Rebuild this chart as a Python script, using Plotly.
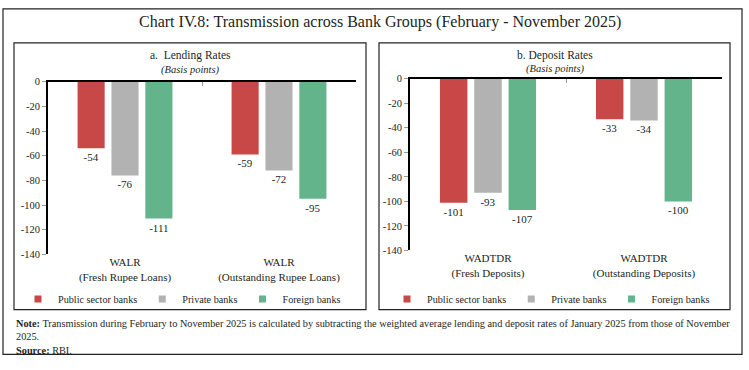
import plotly.graph_objects as go

# ---- data ----
series_names = ["Public sector banks", "Private banks", "Foreign banks"]
series_colors = ["#C84848", "#B2B2B2", "#63B38B"]

lending_categories = ["WALR<br>(Fresh Rupee Loans)", "WALR<br>(Outstanding Rupee Loans)"]
lending_psb = [-54, -59]
lending_private = [-76, -72]
lending_foreign = [-111, -95]

deposit_categories = ["WADTDR<br>(Fresh Deposits)", "WADTDR<br>(Outstanding Deposits)"]
deposit_psb = [-101, -33]
deposit_private = [-93, -34]
deposit_foreign = [-107, -100]

y_ticks = [0, -20, -40, -60, -80, -100, -120, -140]

title_text = "Chart IV.8: Transmission across Bank Groups (February - November 2025)"
panel_a_title = "a.  Lending Rates"
panel_b_title = "b. Deposit Rates"
unit_text = "<i>(Basis points)</i>"
note_text = ("<b>Note:</b> Transmission during February to November 2025 is calculated by subtracting the "
             "weighted average lending and deposit rates of January 2025 from those of November<br>2025.<br>"
             "<b>Source:</b> RBI.")

FONT = "Liberation Serif"
TXT = "#231F20"
W, H = 749, 370

fig = go.Figure()

lend_vals = [lending_psb, lending_private, lending_foreign]
dep_vals = [deposit_psb, deposit_private, deposit_foreign]

for name, color, vals in zip(series_names, series_colors, lend_vals):
    fig.add_trace(go.Bar(x=lending_categories, y=vals, name=name, marker_color=color,
                         marker_line_width=0, text=[str(v) for v in vals],
                         textposition="outside", textfont=dict(family=FONT, size=11, color=TXT),
                         cliponaxis=False, xaxis="x", yaxis="y", showlegend=False))
for name, color, vals in zip(series_names, series_colors, dep_vals):
    fig.add_trace(go.Bar(x=deposit_categories, y=vals, name=name, marker_color=color,
                         marker_line_width=0, text=[str(v) for v in vals],
                         textposition="outside", textfont=dict(family=FONT, size=11, color=TXT),
                         cliponaxis=False, xaxis="x3", yaxis="y3", showlegend=False))

# legend entries (small square swatches)
for name, color in zip(series_names, series_colors):
    fig.add_trace(go.Scatter(x=[None], y=[None], mode="markers", name=name,
                             marker=dict(symbol="square", size=7, color=color),
                             xaxis="x", yaxis="y", legend="legend"))
for name, color in zip(series_names, series_colors):
    fig.add_trace(go.Scatter(x=[None], y=[None], mode="markers", name=name,
                             marker=dict(symbol="square", size=7, color=color),
                             xaxis="x3", yaxis="y3", legend="legend2"))

def px_x(v):
    return v / W

def px_y(v):
    return 1 - v / H

left_dom_x = [px_x(48), px_x(356)]
left_dom_y = [px_y(257), px_y(79)]
right_dom_x = [px_x(410), px_x(722)]
right_dom_y = [px_y(253), px_y(76)]

cat_axis = dict(showline=False, ticks="", showgrid=False, zeroline=False,
                tickfont=dict(family=FONT, size=11, color=TXT), fixedrange=True)
top_axis = dict(side="top", showline=True, linewidth=2, linecolor="#000000",
                ticks="inside", ticklen=4, tickwidth=1, tickcolor="#999999",
                tickvals=[0.5, 1.5], showticklabels=False, showgrid=False, zeroline=False,
                range=[-0.5, 1.5], type="linear")
val_axis = dict(range=[-140, 0], tickvals=y_ticks, ticktext=[str(t) for t in y_ticks],
                showline=True, linewidth=2, linecolor="#000000", ticks="outside", ticklen=4,
                tickwidth=1, tickcolor="#999999", showgrid=False, zeroline=False,
                tickfont=dict(family=FONT, size=10.5, color=TXT))

legend_common = dict(orientation="h", font=dict(family=FONT, size=10.2, color=TXT),
                     bgcolor="rgba(0,0,0,0)", yanchor="middle", xanchor="left",
                     itemclick=False, itemdoubleclick=False, tracegroupgap=0)

fig.update_layout(
    width=W, height=H,
    margin=dict(l=0, r=0, t=0, b=0),
    paper_bgcolor="white", plot_bgcolor="white",
    barmode="group", bargap=0.34, bargroupgap=0.2,
    font=dict(family=FONT, color=TXT),
    xaxis=dict(cat_axis, domain=left_dom_x, anchor="y"),
    xaxis2=dict(top_axis, domain=left_dom_x, anchor="y", overlaying="x"),
    yaxis=dict(val_axis, domain=left_dom_y, anchor="x"),
    xaxis3=dict(cat_axis, domain=right_dom_x, anchor="y3"),
    xaxis4=dict(top_axis, domain=right_dom_x, anchor="y3", overlaying="x3"),
    yaxis3=dict(val_axis, domain=right_dom_y, anchor="x3"),
    legend=dict(legend_common, x=px_x(18), y=px_y(303)),
    legend2=dict(legend_common, x=px_x(387), y=px_y(303)),
    showlegend=True,
)

# invisible trace so top axes get drawn
fig.add_trace(go.Scatter(x=[None], y=[None], xaxis="x2", yaxis="y", showlegend=False, hoverinfo="skip"))
fig.add_trace(go.Scatter(x=[None], y=[None], xaxis="x4", yaxis="y3", showlegend=False, hoverinfo="skip"))

shapes = []
shapes.append(dict(type="rect", xref="paper", yref="paper", x0=px_x(3), x1=px_x(742),
                   y0=px_y(360), y1=px_y(4), line=dict(color="#222222", width=1.2)))
shapes.append(dict(type="rect", xref="paper", yref="paper", x0=px_x(14), x1=px_x(366),
                   y0=px_y(314), y1=px_y(39), line=dict(color="#222222", width=1.2)))
shapes.append(dict(type="rect", xref="paper", yref="paper", x0=px_x(379), x1=px_x(730),
                   y0=px_y(314), y1=px_y(39), line=dict(color="#222222", width=1.2)))
fig.update_layout(shapes=shapes)

ann = []
ann.append(dict(text=title_text, x=px_x(380), y=px_y(18), xref="paper", yref="paper",
                showarrow=False, xanchor="center", yanchor="middle",
                font=dict(family=FONT, size=16, color=TXT)))
ann.append(dict(text=panel_a_title, x=px_x(190), y=px_y(52), xref="paper", yref="paper",
                showarrow=False, xanchor="center", yanchor="middle",
                font=dict(family=FONT, size=11.5, color=TXT)))
ann.append(dict(text=unit_text, x=px_x(190), y=px_y(67), xref="paper", yref="paper",
                showarrow=False, xanchor="center", yanchor="middle",
                font=dict(family=FONT, size=10.5, color=TXT)))
ann.append(dict(text=panel_b_title, x=px_x(555), y=px_y(52), xref="paper", yref="paper",
                showarrow=False, xanchor="center", yanchor="middle",
                font=dict(family=FONT, size=11.5, color=TXT)))
ann.append(dict(text=unit_text, x=px_x(555), y=px_y(66), xref="paper", yref="paper",
                showarrow=False, xanchor="center", yanchor="middle",
                font=dict(family=FONT, size=10.5, color=TXT)))
ann.append(dict(text=note_text, x=px_x(14), y=px_y(321), xref="paper", yref="paper",
                showarrow=False, xanchor="left", yanchor="top", align="left",
                font=dict(family=FONT, size=10.3, color=TXT)))
fig.update_layout(annotations=ann)

fig.write_html("out.html",
               config={"displayModeBar": False},
               post_script="document.body.style.margin='0px';document.body.style.overflow='hidden';"
                           "document.documentElement.style.overflow='hidden';")
